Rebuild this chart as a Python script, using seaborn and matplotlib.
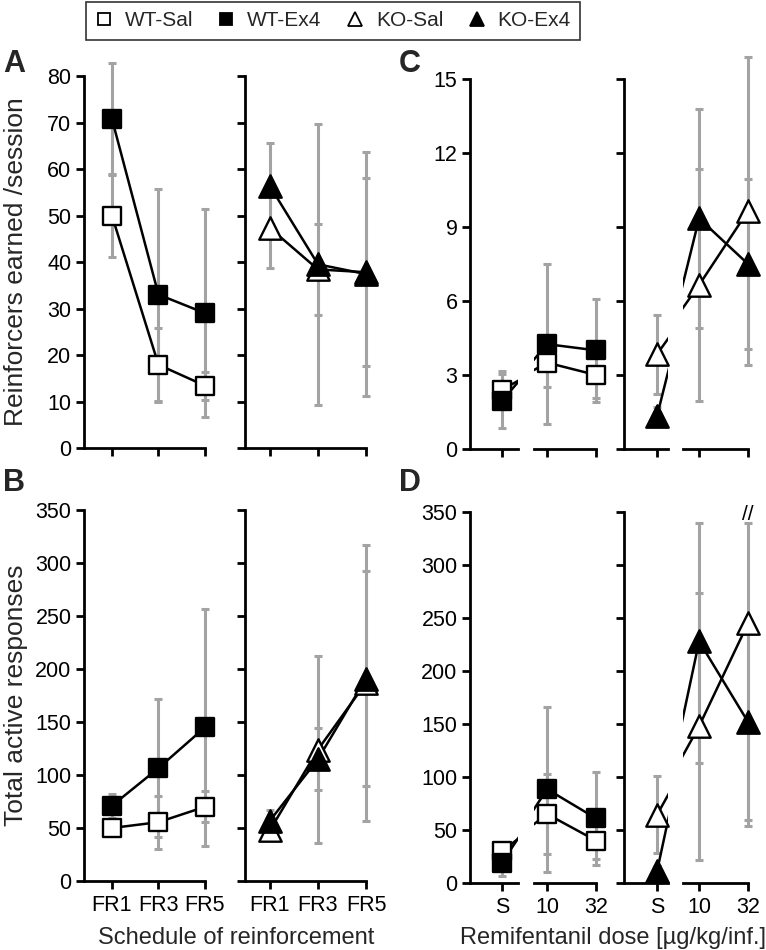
import numpy as np
import matplotlib
matplotlib.use("Agg")
import matplotlib.pyplot as plt
from matplotlib.lines import Line2D
import seaborn as sns

sns.set_style("ticks")
plt.rcParams["font.family"] = ["Liberation Sans", "DejaVu Sans"]

# x categories
schedules = ["FR1", "FR3", "FR5"]
doses = ["S", "10", "32"]

# A - reinforcers earned / session (mean and sem)
a_wt_sal = [50.0, 17.9, 13.4]
a_wt_sal_sem = [9.0, 8.0, 3.0]
a_wt_ex4 = [70.8, 33.0, 29.0]
a_wt_ex4_sem = [12.0, 22.8, 22.3]
a_ko_sal = [47.3, 38.4, 37.8]
a_ko_sal_sem = [8.5, 9.8, 20.2]
a_ko_ex4 = [56.3, 39.5, 37.4]
a_ko_ex4_sem = [9.3, 30.2, 26.2]

# B - total active responses
b_wt_sal = [50.0, 55.5, 70.0]
b_wt_sal_sem = [8.0, 25.0, 14.5]
b_wt_ex4 = [71.0, 106.5, 145.0]
b_wt_ex4_sem = [11.5, 65.0, 112.0]
b_ko_sal = [48.0, 124.0, 187.0]
b_ko_sal_sem = [7.0, 88.0, 130.0]
b_ko_ex4 = [57.0, 115.0, 191.0]
b_ko_ex4_sem = [10.0, 29.0, 101.0]

# C - reinforcers earned / session, remifentanil
c_wt_sal = [2.4, 3.5, 3.0]
c_wt_sal_sem = [0.78, 1.0, 0.95]
c_wt_ex4 = [1.95, 4.25, 4.0]
c_wt_ex4_sem = [1.1, 3.25, 2.1]
c_ko_sal = [3.85, 6.65, 9.65]
c_ko_sal_sem = [1.6, 4.7, 6.25]
c_ko_ex4 = [1.35, 9.35, 7.5]
c_ko_ex4_sem = [0.35, 4.45, 3.45]

# D - total active responses, remifentanil
d_wt_sal = [30.0, 65.0, 40.0]
d_wt_sal_sem = [6.0, 38.0, 17.0]
d_wt_ex4 = [19.0, 88.5, 61.0]
d_wt_ex4_sem = [12.0, 78.0, 44.0]
d_ko_sal = [64.5, 148.0, 245.0]
d_ko_sal_sem = [36.5, 126.0, 191.0]
d_ko_ex4 = [11.5, 228.0, 152.0]
d_ko_ex4_sem = [5.0, 115.0, 93.0]

styles = {
    "WT-Sal": ("s", "white", 150),
    "WT-Ex4": ("s", "black", 150),
    "KO-Sal": ("^", "white", 260),
    "KO-Ex4": ("^", "black", 260),
}
GREY = "#a3a3a3"
W, H = 766, 950

fig = plt.figure(figsize=(W / 100, H / 100), dpi=100)


def px_axes(x0, y0, x1, y1):
    return fig.add_axes([x0 / W, 1 - y1 / H, (x1 - x0) / W, (y1 - y0) / H])


def draw_series(ax, y, err, name, keep=(0, 1, 2), top=None):
    marker, face, size = styles[name]
    x = [0, 1, 2]
    sns.lineplot(x=x, y=y, ax=ax, color="black", lw=1.8, errorbar=None,
                 sort=False, zorder=2)
    xs = [x[i] for i in keep]
    ys = np.array([y[i] for i in keep])
    es = np.array([err[i] for i in keep])
    up = es if top is None else np.minimum(ys + es, top) - ys
    eb = ax.errorbar(xs, ys, yerr=[es, up], fmt="none", ecolor=GREY,
                     elinewidth=2.2, capsize=3.2, capthick=2.2, zorder=1)
    for art in eb.get_children():
        art.set_clip_on(False)
    sns.scatterplot(x=xs, y=ys, ax=ax, marker=marker, s=size, color=face,
                    edgecolor="black", linewidth=1.7, zorder=3, clip_on=False)


def style_axes(ax, ylim, yticks, xlim, xticks, xlabels=None,
               left=True, ylabels=True):
    ax.set_xlim(*xlim)
    ax.set_ylim(*ylim)
    sns.despine(ax=ax, left=not left)
    for s in ["left", "bottom"]:
        ax.spines[s].set_linewidth(2)
        ax.spines[s].set_color("black")
    ax.set_xticks(xticks)
    ax.set_xticklabels(xlabels if xlabels else [""] * len(xticks))
    if left:
        ax.set_yticks(yticks)
        ax.set_yticklabels([str(t) for t in yticks] if ylabels else [""] * len(yticks))
    else:
        ax.set_yticks([])
    ax.tick_params(direction="out", length=6, width=2, labelsize=15.5,
                   pad=3, colors="black")
    ax.tick_params(axis="x", pad=4)
    ax.set_xlabel("")
    ax.set_ylabel("")


# ---- FR panels (A, B) ----
fr_cols = [(84, 205, (-0.6, 2.0)), (245, 366, (-0.52, 2.0))]
fr_rows = [
    (76, 448, (0, 80), list(range(0, 81, 10)), False,
     [(a_wt_sal, a_wt_sal_sem, "WT-Sal"), (a_wt_ex4, a_wt_ex4_sem, "WT-Ex4")],
     [(a_ko_sal, a_ko_sal_sem, "KO-Sal"), (a_ko_ex4, a_ko_ex4_sem, "KO-Ex4")]),
    (510, 881, (0, 350), list(range(0, 351, 50)), True,
     [(b_wt_sal, b_wt_sal_sem, "WT-Sal"), (b_wt_ex4, b_wt_ex4_sem, "WT-Ex4")],
     [(b_ko_sal, b_ko_sal_sem, "KO-Sal"), (b_ko_ex4, b_ko_ex4_sem, "KO-Ex4")]),
]
for y0, y1, ylim, yt, show_x, wt, ko in fr_rows:
    for ci, (x0, x1, xlim) in enumerate(fr_cols):
        ax = px_axes(x0, y0, x1, y1)
        for y, e, n in (wt if ci == 0 else ko):
            draw_series(ax, y, e, n)
        style_axes(ax, ylim, yt, xlim, [0, 1, 2],
                   schedules if show_x else None, ylabels=(ci == 0))

# ---- dose panels (C, D), broken x axis ----
dose_cols = [
    ((470, 518, (-0.65, 0.33)), (534, 596, (0.73, 2.0))),
    ((624, 668, (-0.67, 0.22)), (683, 748, (0.67, 2.0))),
]
dose_rows = [
    (79, 449, (0, 15), list(range(0, 16, 3)), False,
     [(c_wt_sal, c_wt_sal_sem, "WT-Sal"), (c_wt_ex4, c_wt_ex4_sem, "WT-Ex4")],
     [(c_ko_sal, c_ko_sal_sem, "KO-Sal"), (c_ko_ex4, c_ko_ex4_sem, "KO-Ex4")]),
    (512, 883, (0, 350), list(range(0, 351, 50)), True,
     [(d_wt_sal, d_wt_sal_sem, "WT-Sal"), (d_wt_ex4, d_wt_ex4_sem, "WT-Ex4")],
     [(d_ko_sal, d_ko_sal_sem, "KO-Sal"), (d_ko_ex4, d_ko_ex4_sem, "KO-Ex4")]),
]
for ri, (y0, y1, ylim, yt, show_x, wt, ko) in enumerate(dose_rows):
    for ci, ((sx0, sx1, sxlim), (dx0, dx1, dxlim)) in enumerate(dose_cols):
        ax_s = px_axes(sx0, y0, sx1, y1)
        ax_d = px_axes(dx0, y0, dx1, y1)
        top = 340 if (ri == 1 and ci == 1) else None
        for y, e, n in (wt if ci == 0 else ko):
            draw_series(ax_s, y, e, n, keep=(0,))
            draw_series(ax_d, y, e, n, keep=(1, 2), top=top)
        style_axes(ax_s, ylim, yt, sxlim, [0],
                   doses[:1] if show_x else None, ylabels=(ci == 0))
        style_axes(ax_d, ylim, yt, dxlim, [1, 2],
                   doses[1:] if show_x else None, left=False)
        if top is not None:
            ax_d.annotate("//", xy=(2, 348), ha="center", va="center",
                          fontsize=15, color="black", annotation_clip=False)

# ---- text ----
fig.text(16 / W, 1 - 262 / H, "Reinforcers earned /session", fontsize=19,
         rotation=90, ha="center", va="center")
fig.text(16 / W, 1 - 695 / H, "Total active responses", fontsize=19,
         rotation=90, ha="center", va="center")
fig.text(236 / W, 1 - 938 / H, "Schedule of reinforcement", fontsize=17,
         ha="center", va="center")
fig.text(613 / W, 1 - 938 / H, "Remifentanil dose [µg/kg/inf.]", fontsize=17,
         ha="center", va="center")
for lab, (px, py) in {"A": (14, 64), "B": (14, 483), "C": (410, 64),
                      "D": (410, 483)}.items():
    fig.text(px / W, 1 - py / H, lab, fontsize=22, fontweight="bold",
             ha="center", va="center")

handles = []
for name, (marker, face, size) in styles.items():
    handles.append(Line2D([], [], ls="none", marker=marker, mfc=face,
                          mec="black", mew=1.3,
                          ms=8 if marker == "s" else 10))
leg = fig.legend(handles, list(styles.keys()), ncol=4, loc="upper center",
                 bbox_to_anchor=(333 / W, 1 - 2 / H), fontsize=15,
                 frameon=True, fancybox=False, edgecolor="black",
                 handletextpad=0.6, columnspacing=1.2, borderpad=0.45,
                 handlelength=0.8, borderaxespad=0)
leg.get_frame().set_linewidth(1.2)

fig.savefig("out.png", dpi=100)
